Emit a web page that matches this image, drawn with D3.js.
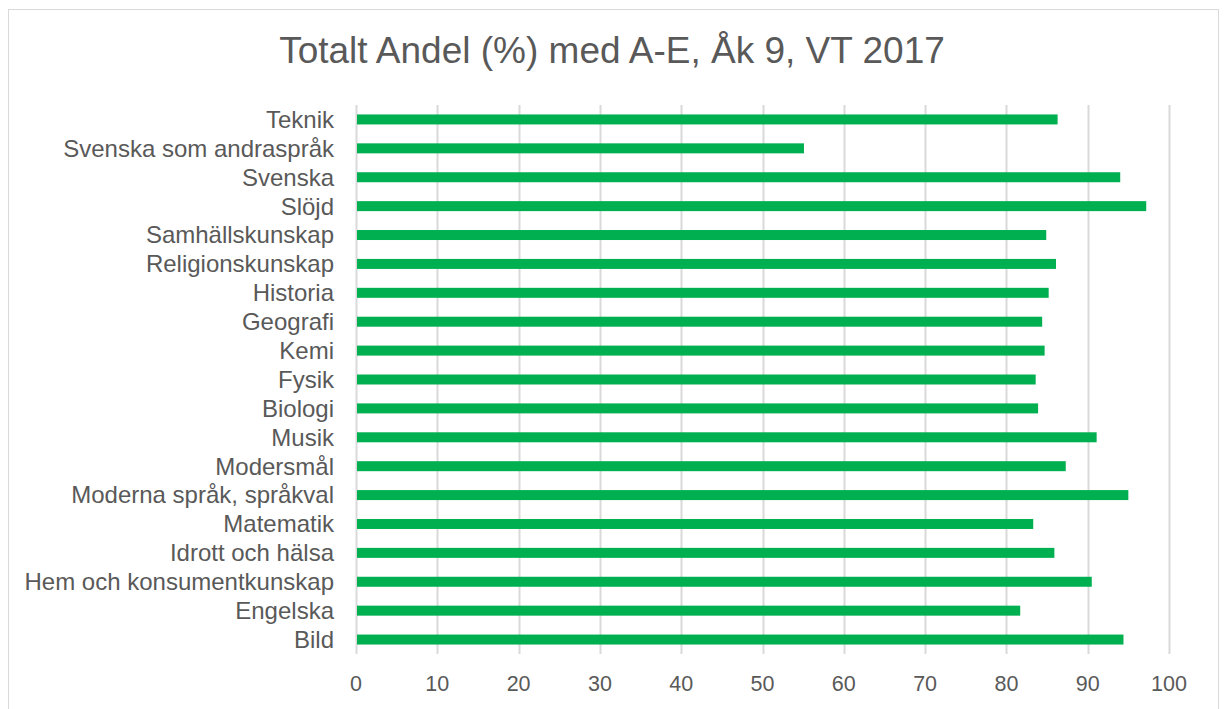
<!DOCTYPE html>
<html>
<head>
<meta charset="utf-8">
<script src="https://cdn.jsdelivr.net/npm/d3@7"></script>
<style>
  body { margin: 0; background: #fff; }
  text { font-family: "Liberation Sans", Arial, sans-serif; fill: #595959; }
</style>
</head>
<body>
<div id="chart"></div>
<script>
// subjects, top to bottom as drawn
var subjects = ["Teknik", "Svenska som andraspråk", "Svenska", "Slöjd", "Samhällskunskap",
  "Religionskunskap", "Historia", "Geografi", "Kemi", "Fysik", "Biologi", "Musik",
  "Modersmål", "Moderna språk, språkval", "Matematik", "Idrott och hälsa",
  "Hem och konsumentkunskap", "Engelska", "Bild"];
var andel = [86.3, 55.1, 94.0, 97.2, 84.9, 86.1, 85.2, 84.4, 84.7, 83.6, 83.9, 91.1,
  87.3, 95.0, 83.3, 85.9, 90.5, 81.7, 94.4];
var xTicks = [0, 10, 20, 30, 40, 50, 60, 70, 80, 90, 100];
var title = "Totalt Andel (%) med A-E, Åk 9, VT 2017";

var width = 1225, height = 709,
    margin = {top: 105, right: 56, bottom: 55, left: 356};

var svg = d3.select("#chart").append("svg")
    .attr("width", width)
    .attr("height", height);

svg.append("rect")
    .attr("x", 8.5).attr("y", 9.5)
    .attr("width", 1210).attr("height", 720)
    .attr("fill", "#fff")
    .attr("stroke", "#d9d9d9");

svg.append("text")
    .attr("x", 612).attr("y", 63)
    .attr("text-anchor", "middle")
    .style("font-size", "37px")
    .text(title);

var x = d3.scaleLinear().domain([0, 100]).range([margin.left, 1169]);
var y = d3.scaleBand().domain(subjects)
    .range([margin.top, height - margin.bottom])
    .paddingInner(0.654).paddingOuter(0.327);

var g = svg.append("g");

// vertical gridlines
g.append("g").selectAll("line")
  .data(xTicks).enter()
  .append("line")
    .attr("x1", function(d) { return Math.round(x(d)) + 0.5; })
    .attr("x2", function(d) { return Math.round(x(d)) + 0.5; })
    .attr("y1", margin.top)
    .attr("y2", height - margin.bottom)
    .attr("stroke", "#d9d9d9")
    .attr("stroke-width", 2);

// bars
g.append("g").selectAll("rect")
  .data(andel).enter()
  .append("rect")
    .attr("x", x(0) + 1)
    .attr("y", function(d, i) { return y(subjects[i]); })
    .attr("width", function(d) { return x(d) - x(0) - 1; })
    .attr("height", y.bandwidth())
    .attr("fill", "#00b050");

// category labels
g.append("g").selectAll("text")
  .data(subjects).enter()
  .append("text")
    .attr("x", 334)
    .attr("y", function(d) { return y(d) + y.bandwidth() / 2; })
    .attr("dy", "0.35em")
    .attr("text-anchor", "end")
    .style("font-size", "24px")
    .text(function(d) { return d; });

// x tick labels
g.append("g").selectAll("text")
  .data(xTicks).enter()
  .append("text")
    .attr("x", function(d) { return x(d); })
    .attr("y", 691)
    .attr("text-anchor", "middle")
    .style("font-size", "21.5px")
    .text(function(d) { return d; });
</script>
</body>
</html>
